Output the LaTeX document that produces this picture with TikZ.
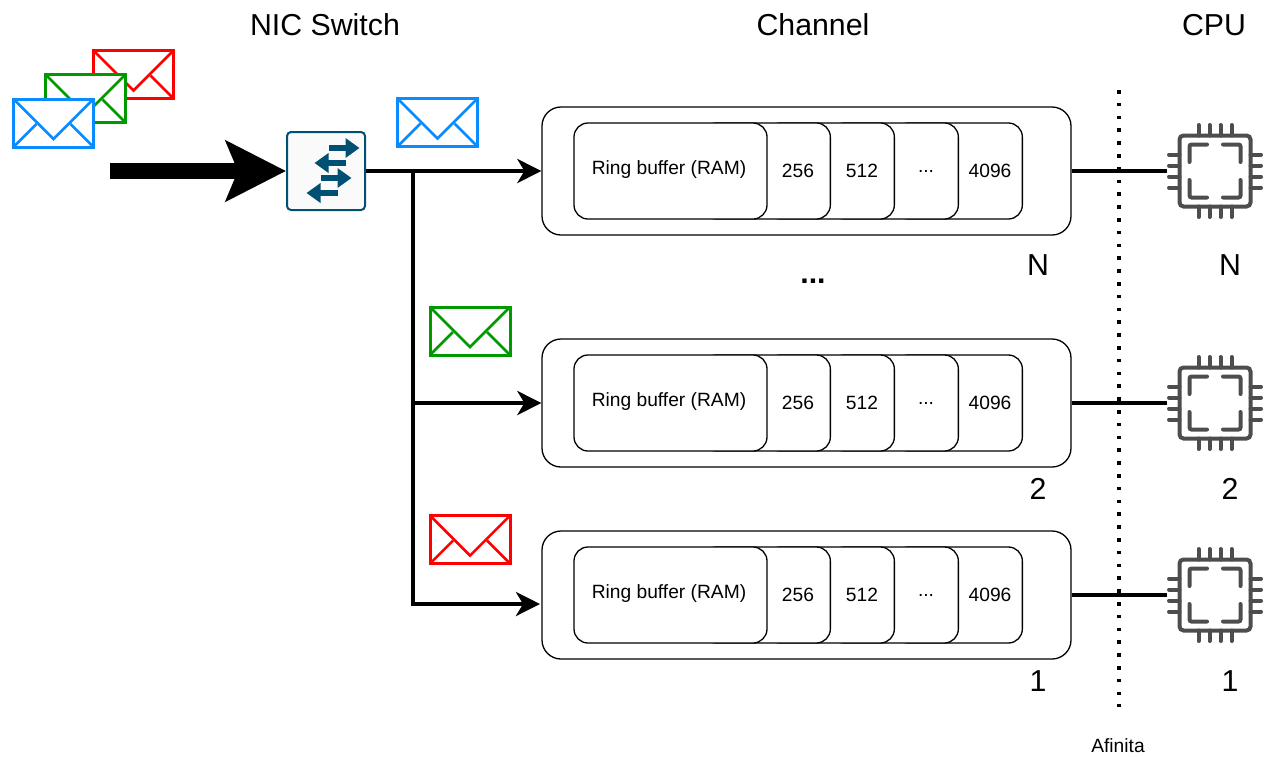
\documentclass[tikz,border=0pt]{standalone}
\usepackage{fontspec}
\setmainfont{Liberation Sans}
\usetikzlibrary{arrows.meta}
\definecolor{mailblue}{HTML}{0A8CFF}
\definecolor{mailgreen}{HTML}{009900}
\definecolor{mailred}{HTML}{FF0000}
\definecolor{switchblue}{HTML}{005073}
\definecolor{chipgray}{HTML}{4D4D4D}
\tikzset{
    envelope/.style={draw=#1, fill=white, line width=3, minimum width=80, minimum height=48, inner sep=0,
        path picture={
            \draw[#1, line width=2.5]
                (path picture bounding box.north west) -- ([shift={(40,40)}]path picture bounding box.north west)
                -- (path picture bounding box.north east);
            \draw[#1, line width=2.5] (path picture bounding box.south west) -- ++(23,-23);
            \draw[#1, line width=2.5] (path picture bounding box.south east) -- ++(-23,-23);
        }},
    channelbox/.style={draw, line width=1.3, fill=white, rounded corners=19, minimum width=529, minimum height=128, inner sep=0},
    ringbox/.style={draw, line width=1.3, fill=white, rounded corners=14, minimum width=193, minimum height=96, inner sep=0, font=\fontsize{19.2}{23}\selectfont},
    slotbox/.style={draw, line width=1.3, fill=white, rounded corners=14, minimum width=128, minimum height=96, inner sep=0, anchor=east},
    slottext/.style={inner sep=0, font=\fontsize{19.2}{23}\selectfont},
    heading/.style={inner sep=0, font=\fontsize{30.3}{36}\selectfont},
    link/.style={line width=4, -{Stealth[length=24pt,width=24pt,inset=7pt]}},
    cpulink/.style={line width=4},
    cpubox/.style={minimum size=95, inner sep=0},
    chip/.pic={
        \draw[chipgray, line width=4, rounded corners=4] (-35.5,-35.5) rectangle (35.5,35.5);
        \foreach \p in {-16.5,-5.5,5.5,16.5} {
            \draw[chipgray, line width=4, line cap=round] (\p,-35.5) -- (\p,-46);
            \draw[chipgray, line width=4, line cap=round] (\p,35.5) -- (\p,46);
            \draw[chipgray, line width=4, line cap=round] (-35.5,\p) -- (-46,\p);
            \draw[chipgray, line width=4, line cap=round] (35.5,\p) -- (46,\p);
        }
        % Corner brackets
        \foreach \sx/\sy in {-1/-1,1/-1,-1/1,1/1} {
            \draw[chipgray, line width=4, line cap=round, rounded corners=2]
                (\sx*8,\sy*26.5) -- (\sx*25.5,\sy*26.5) -- (\sx*25.5,\sy*9);
        }
    }
}
\begin{document}
\begin{tikzpicture}[x=1pt, y=-1pt]
    \useasboundingbox (0,0) rectangle (1265,756);
    \def\slotdots{...}

    % Headings
    \node[heading] (titleswitch) at (325,25) {NIC Switch};
    \node[heading] (titlechannel) at (813,25) {Channel};
    \node[heading] (titlecpu) at (1214,25) {CPU};

    % Incoming messages
    \node[envelope=mailred] (inred) at (133.5,74.5) {};
    \node[envelope=mailgreen] (ingreen) at (85.5,98.5) {};
    \node[envelope=mailblue] (inblue) at (53.5,123) {};

    % Switch
    \node[draw=switchblue, fill=black!2, line width=2, rounded corners=4, minimum size=78, inner sep=0] (switch) at (326,171) {};
    \foreach \x/\y/\d in {18/-23/1,4/-8/-1,10/7/1,-4/22/-1} {
        \draw[switchblue, line width=6, -{Triangle[length=14pt,width=19pt]}]
            (326+\x-\d*15.5,171+\y) -- (326+\x+\d*15.5,171+\y);
    }

    % Big arrow into the switch
    \coordinate (source) at (110,171);
    \draw[line width=16, -{Stealth[length=60pt,width=60pt,inset=12pt]}] (source) -- (switch.west);

    % Channels with their ring buffers and CPUs
    \foreach \n/\y in {N/171,2/403,1/595} {
        \node[channelbox] (channel\n) at (806.5,\y) {};
        \foreach \r/\t [count=\i] in {1023/4096,959/\slotdots,895/512,831/256} {
            \node[slotbox] (slot\i\n) at (\r,\y) {};
            \node[slottext] (slottext\i\n) at (\r-33,\y) {\t};
        }
        \node[ringbox] (ring\n) at (670.5,\y) {};
        \node[slottext] (ringtext\n) at (669,\y-1) {Ring buffer (RAM)};
        \node[cpubox] (cpu\n) at (1215,\y) {};
        \pic at (cpu\n.center) {chip};
        \draw[cpulink] (channel\n.east) -- (cpu\n.west);
    }

    % Numbers
    \node[heading] (numN) at (1038,265) {N};
    \node[heading] (numcpuN) at (1230,265) {N};
    \node[heading] (num2) at (1038,489) {2};
    \node[heading] (numcpu2) at (1230,489) {2};
    \node[heading] (num1) at (1038,681) {1};
    \node[heading] (numcpu1) at (1230,681) {1};
    \node[heading, font=\fontsize{30.3}{36}\selectfont\bfseries] (dots) at (813,281) {...};

    % Links from the switch to the channels
    \coordinate (branch) at (413,171);
    \coordinate (lowentry) at (540,604);
    \draw[link] (switch.east) -- (channelN.west);
    \draw[link] (branch) |- (channel2.west);
    \draw[link] (branch) |- (lowentry);

    % Messages on the links
    \node[envelope=mailblue] (msgblue) at (437.5,122.5) {};
    \node[envelope=mailgreen] (msggreen) at (470,331) {};
    \node[envelope=mailred] (msgred) at (470,539.5) {};

    % Affinity border
    \coordinate (bordertop) at (1119,90);
    \coordinate (borderbottom) at (1119,707);
    \draw[line width=3.5, dash pattern=on 3.5pt off 9.3pt] (bordertop) -- (borderbottom);
    \node[slottext] (afinita) at (1118,746) {Afinita};
\end{tikzpicture}
\end{document}
